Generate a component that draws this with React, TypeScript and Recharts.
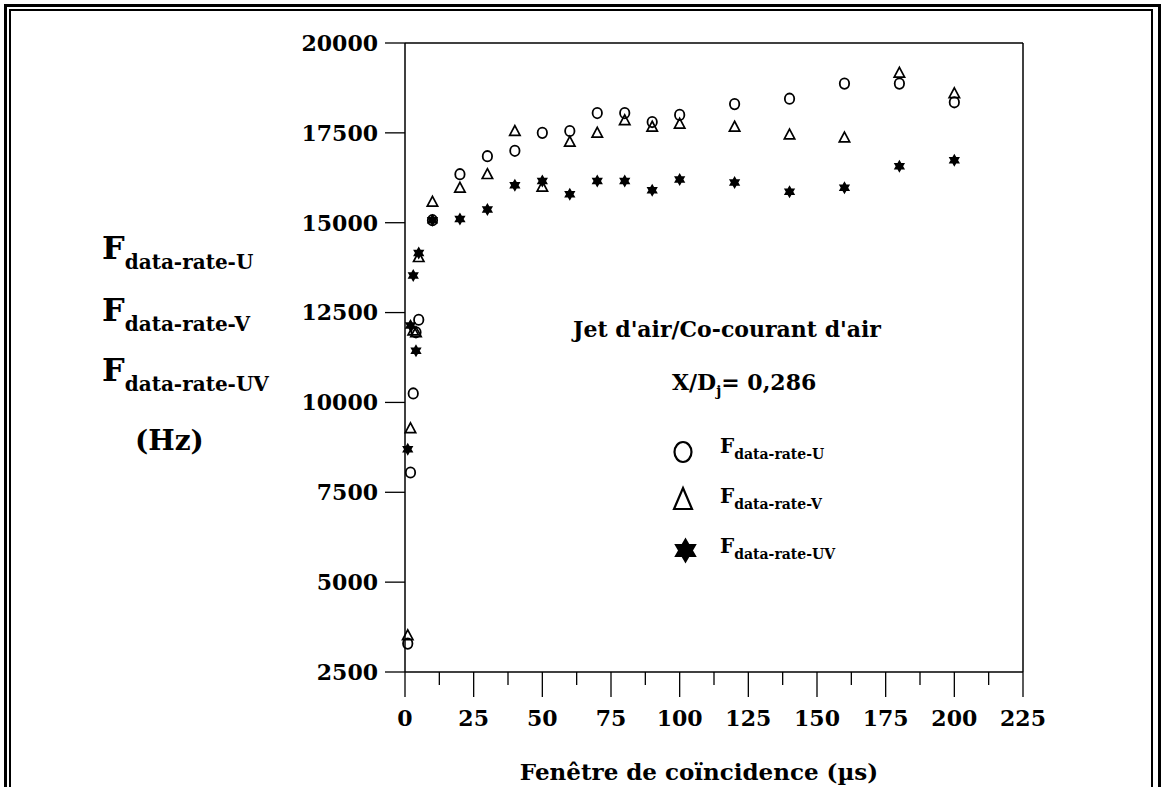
import { ScatterChart, Scatter, XAxis, YAxis } from "recharts";

// fenêtre de coïncidence (µs)
const windowUs = [1, 2, 3, 4, 5, 10, 20, 30, 40, 50, 60, 70, 80, 90, 100, 120, 140, 160, 180, 200];

// data rates (Hz)
const rateU = [3290, 8050, 10250, 11950, 12300, 15070, 16350, 16850, 17000, 17500, 17550, 18050, 18050, 17800, 18000, 18300, 18450, 18870, 18870, 18350];
const rateV = [3520, 9280, 12000, 11950, 14040, 15580, 15970, 16350, 17550, 16000, 17250, 17500, 17850, 17670, 17750, 17670, 17450, 17370, 19170, 18600];
const rateUV = [8700, 12140, 13530, 11440, 14160, 15070, 15100, 15370, 16040, 16160, 15790, 16160, 16160, 15900, 16200, 16120, 15860, 15970, 16570, 16740];

const yTicks = [2500, 5000, 7500, 10000, 12500, 15000, 17500, 20000];
const xTicks = [0, 12.5, 25, 37.5, 50, 62.5, 75, 87.5, 100, 112.5, 125, 137.5, 150, 162.5, 175, 187.5, 200, 212.5, 225];
const topTicks = [25, 50, 75, 100, 125, 150, 175, 200];
const rightTicks = [1, 2, 3, 4, 5, 6, 7, 8, 9];

const toPoints = (ys: number[]) => windowUs.map((x, i) => ({ x, y: ys[i] }));
const dataU = toPoints(rateU);
const dataV = toPoints(rateV);
const dataUV = toPoints(rateUV);

const FONT = "'DejaVu Serif', serif";

// six-pointed star, both triangles drawn with the same winding so it fills solid
const starPath = (cx: number, cy: number, r: number) => {
  const c = r * Math.cos(Math.PI / 6);
  const up = `M${cx},${cy - r} L${cx + c},${cy + r / 2} L${cx - c},${cy + r / 2} Z`;
  const down = `M${cx - c},${cy - r / 2} L${cx + c},${cy - r / 2} L${cx},${cy + r} Z`;
  return up + " " + down;
};

const CircleMark = (p: any) => (
  <ellipse cx={p.cx} cy={p.cy} rx={4.7} ry={5.2} fill="none" stroke="#000" strokeWidth={1.8} />
);

const TriangleMark = (p: any) => (
  <path
    d={`M${p.cx},${p.cy - 5.5} L${p.cx + 5.2},${p.cy + 4.3} L${p.cx - 5.2},${p.cy + 4.3} Z`}
    fill="none"
    stroke="#000"
    strokeWidth={1.7}
  />
);

const StarMark = (p: any) => <path d={starPath(p.cx, p.cy, 6.5)} fill="#000" />;

const BottomTick = (p: any) => {
  const v = p.payload.value;
  const major = v % 25 === 0;
  return (
    <g>
      <line x1={p.x} x2={p.x} y1={p.y} y2={p.y + (major ? 25 : 13)} stroke="#000" strokeWidth={1.3} />
      {major && (
        <text x={p.x} y={p.y + 54} textAnchor="middle" fontFamily={FONT} fontWeight="bold" fontSize={22} fill="#000">
          {v}
        </text>
      )}
    </g>
  );
};

const TopTick = (p: any) => {
  const long = p.payload.value % 50 === 0;
  return <line x1={p.x} x2={p.x} y1={p.y} y2={p.y + (long ? 24 : 12)} stroke="#000" strokeWidth={1.3} />;
};

const RightTick = (p: any) => {
  const long = p.payload.value % 2 === 0;
  return <line x1={p.x - (long ? 25 : 12)} x2={p.x} y1={p.y} y2={p.y} stroke="#000" strokeWidth={1.3} />;
};

const Sub = ({ x, y, big, small, bigSize, smallSize }: any) => (
  <text x={x} y={y} fontFamily={FONT} fontWeight="bold" fill="#000">
    <tspan fontSize={bigSize}>{big}</tspan>
    <tspan fontSize={smallSize} dy={bigSize * 0.32}>
      {small}
    </tspan>
  </text>
);

export default function App() {
  return (
    <div style={{ position: "absolute", left: 0, top: 0, width: 1161, height: 787, overflow: "hidden", background: "#fff" }}>
      <div style={{ position: "absolute", left: 4, top: 4, width: 1157, height: 820, border: "3px solid #000", boxSizing: "border-box" }} />
      <div style={{ position: "absolute", left: 9, top: 9, width: 1144, height: 820, border: "2.5px solid #000", boxSizing: "border-box" }} />

      <div style={{ position: "absolute", left: 0, top: 0 }}>
        <ScatterChart width={1161} height={787} margin={{ top: 42, right: 137, bottom: 0, left: 0 }}>
          <XAxis
            dataKey="x"
            type="number"
            domain={[0, 225]}
            ticks={xTicks}
            interval={0}
            height={115}
            tickSize={0}
            tickMargin={0}
            tickLine={false}
            axisLine={{ stroke: "#000", strokeWidth: 1.5 }}
            tick={BottomTick}
            label={{
              content: () => (
                <text x={699} y={780} textAnchor="middle" fontFamily={FONT} fontWeight="bold" fontSize={23} fill="#000">
                  Fenêtre de coïncidence (µs)
                </text>
              ),
            }}
          />
          <XAxis
            xAxisId="top"
            orientation="top"
            type="number"
            domain={[0, 225]}
            ticks={topTicks}
            interval={0}
            height={1}
            tickSize={0}
            tickMargin={0}
            tickLine={false}
            axisLine={{ stroke: "#000", strokeWidth: 1.5 }}
            tick={TopTick}
          />
          <YAxis
            dataKey="y"
            type="number"
            domain={[2500, 20000]}
            ticks={yTicks}
            interval={0}
            width={405}
            tickSize={20}
            tickMargin={7}
            tickLine={{ stroke: "#000", strokeWidth: 1.3 }}
            axisLine={{ stroke: "#000", strokeWidth: 1.5 }}
            tick={{ fill: "#000", fontFamily: FONT, fontWeight: "bold", fontSize: 22 }}
          />
          <YAxis
            yAxisId="r"
            orientation="right"
            type="number"
            domain={[0, 10]}
            ticks={rightTicks}
            interval={0}
            width={1}
            tickSize={0}
            tickMargin={0}
            tickLine={false}
            axisLine={{ stroke: "#000", strokeWidth: 1.5 }}
            tick={RightTick}
          />
          <Scatter name="U" data={dataU} shape={CircleMark} isAnimationActive={false} />
          <Scatter name="V" data={dataV} shape={TriangleMark} isAnimationActive={false} />
          <Scatter name="UV" data={dataUV} shape={StarMark} isAnimationActive={false} />
        </ScatterChart>
      </div>

      <svg width={1161} height={787} style={{ position: "absolute", left: 0, top: 0, pointerEvents: "none" }}>
        {/* y axis title */}
        <Sub x={102} y={259} big="F" small="data-rate-U" bigSize={32} smallSize={20} />
        <Sub x={102} y={321} big="F" small="data-rate-V" bigSize={32} smallSize={20} />
        <Sub x={102} y={381} big="F" small="data-rate-UV" bigSize={32} smallSize={20} />
        <text x={135} y={450} fontFamily={FONT} fontWeight="bold" fontSize={28} fill="#000">
          (Hz)
        </text>

        {/* annotation */}
        <text x={727} y={337} textAnchor="middle" fontFamily={FONT} fontWeight="bold" fontSize={22} fill="#000">
          Jet d'air/Co-courant d'air
        </text>
        <text x={672} y={390} fontFamily={FONT} fontWeight="bold" fontSize={22} fill="#000">
          <tspan>X/D</tspan>
          <tspan fontSize={14} dy={6}>j</tspan>
          <tspan dy={-6}>= 0,286</tspan>
        </text>

        {/* legend */}
        <ellipse cx={683} cy={452} rx={8.5} ry={10} fill="none" stroke="#000" strokeWidth={2.2} />
        <path d="M683,488 L692,509 L674,509 Z" fill="none" stroke="#000" strokeWidth={2.2} />
        <path d={starPath(685.5, 550.5, 13)} fill="#000" />
        <Sub x={720} y={453} big="F" small="data-rate-U" bigSize={20} smallSize={14} />
        <Sub x={720} y={503} big="F" small="data-rate-V" bigSize={20} smallSize={14} />
        <Sub x={720} y={553} big="F" small="data-rate-UV" bigSize={20} smallSize={14} />
      </svg>
    </div>
  );
}
